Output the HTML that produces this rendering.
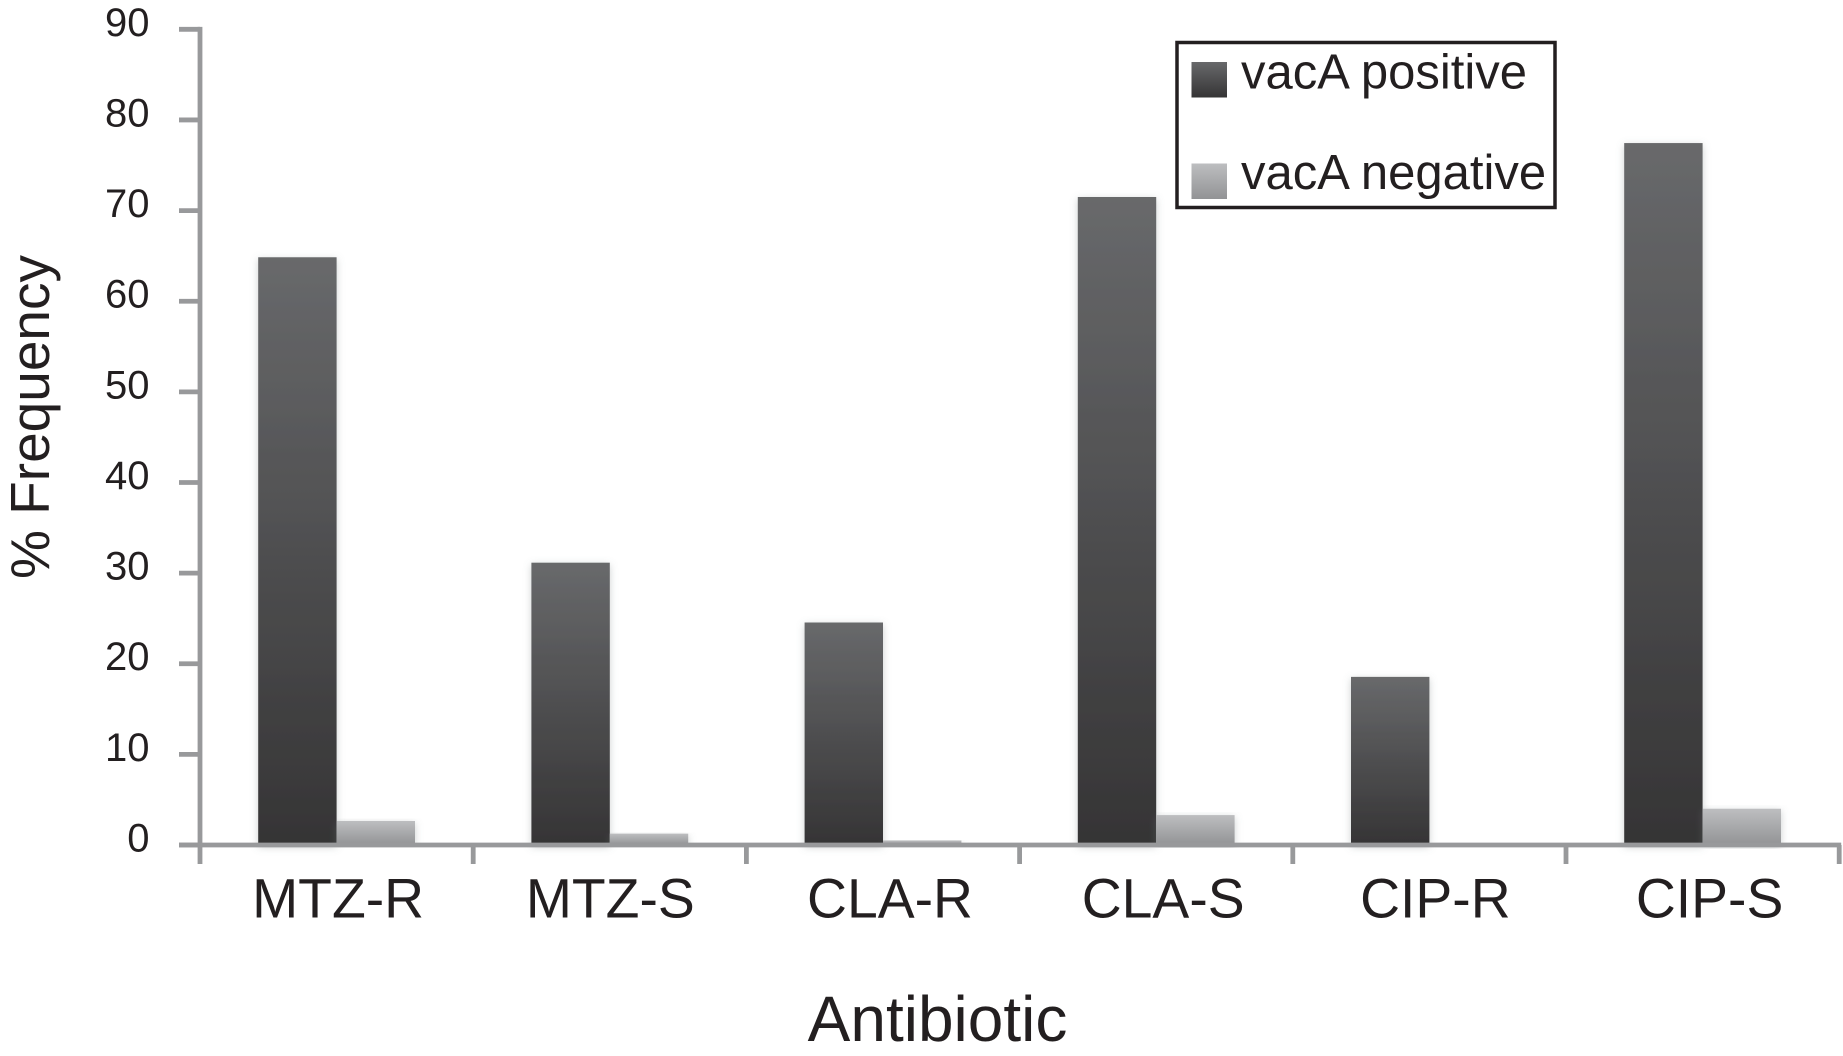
<!DOCTYPE html>
<html lang="en">
<head>
<meta charset="utf-8">
<title>vacA frequency by antibiotic</title>
<style>
html,body{margin:0;padding:0;background:#fff;width:1843px;height:1056px;overflow:hidden}
svg{display:block}
text{font-family:"Liberation Sans",sans-serif;fill:#231f20}
</style>
</head>
<body>
<svg id="chart" xmlns="http://www.w3.org/2000/svg" width="1843" height="1056" viewBox="0 0 1843 1056">
<defs>
<linearGradient id="dark-grad" x1="0" y1="0" x2="0" y2="1"><stop offset="0" stop-color="#68696b"/><stop offset="1" stop-color="#353435"/></linearGradient>
<linearGradient id="light-grad" x1="0" y1="0" x2="0" y2="1"><stop offset="0" stop-color="#bdbec0"/><stop offset="1" stop-color="#929395"/></linearGradient>
<filter id="bar-shadow" x="-30%" y="-10%" width="160%" height="120%"><feDropShadow dx="0" dy="2" stdDeviation="4" flood-color="#6f7a7a" flood-opacity="0.35"/></filter>
</defs>
<g id="bars"></g>
<g id="axes"></g>
<text transform="translate(49,417) rotate(-90)" text-anchor="middle" font-size="55">% Frequency</text>
<text x="937.5" y="1041" text-anchor="middle" font-size="64">Antibiotic</text>
<g>
<rect x="1177" y="42.5" width="378" height="165" fill="#fff" stroke="#231f20" stroke-width="3.5"/>
<rect x="1191.5" y="62" width="35.5" height="35.5" fill="url(#dark-grad)"/>
<text x="1241" y="88.5" font-size="49">vacA positive</text>
<rect x="1191.5" y="163.5" width="35.5" height="35.5" fill="url(#light-grad)"/>
<text x="1241" y="189" font-size="49">vacA negative</text>
</g>
</svg>
<script>
const categories = ["MTZ-R", "MTZ-S", "CLA-R", "CLA-S", "CIP-R", "CIP-S"];
const vacAPositive = [64.85, 31.15, 24.55, 71.5, 18.55, 77.45];
const vacANegative = [2.65, 1.25, 0.5, 3.3, 0, 4.0];
const yTicks = [0, 10, 20, 30, 40, 50, 60, 70, 80, 90];

const NS = "http://www.w3.org/2000/svg";
const AXIS_COLOR = "#98999b";
const X0 = 200, BAND = 273.2, BAR_W = 78.4;
const Y0 = 845, UNIT = 9.063;
const LABEL_SHIFT = [1.5, 0.5, 7, 7, 6, 7];

function yScale(v) { return Y0 - v * UNIT; }
function xBand(i) { return X0 + BAND * i; }
function xCenter(i) { return xBand(i) + BAND / 2; }

function make(tag, attrs, parent) {
  const el = document.createElementNS(NS, tag);
  for (const k in attrs) el.setAttribute(k, attrs[k]);
  parent.appendChild(el);
  return el;
}

const barsG = document.getElementById("bars");
const axesG = document.getElementById("axes");

categories.forEach(function (cat, i) {
  const c = xCenter(i);
  if (vacAPositive[i] > 0) {
    const d = make("rect", { x: c - BAR_W, y: yScale(vacAPositive[i]), width: BAR_W, height: Y0 - yScale(vacAPositive[i]), fill: "url(#dark-grad)", filter: "url(#bar-shadow)" }, barsG);
    
    
  }
  if (vacANegative[i] > 0) {
    const l = make("rect", { x: c, y: yScale(vacANegative[i]), width: BAR_W, height: Y0 - yScale(vacANegative[i]), fill: "url(#light-grad)", filter: "url(#bar-shadow)" }, barsG);
    
    
  }
  const t = make("text", { x: c + LABEL_SHIFT[i], y: 917.5, "text-anchor": "middle", "font-size": 55.3 }, axesG);
  t.textContent = cat;
  
  
});

const yAxis = make("line", { x1: X0, x2: X0, y1: yScale(90) - 2.4, y2: 864, stroke: AXIS_COLOR, "stroke-width": 4.8 }, axesG);



const xAxis = make("line", { x1: 179, x2: xBand(categories.length) + 2, y1: Y0, y2: Y0, stroke: AXIS_COLOR, "stroke-width": 4.8 }, axesG);



yTicks.forEach(function (v) {
  const y = yScale(v);
  const tick = make("line", { x1: 179, x2: X0, y1: y, y2: y, stroke: AXIS_COLOR, "stroke-width": 4.8 }, axesG);
  
  
  const lab = make("text", { x: 149.5, y: y + 6.5, "text-anchor": "end", "font-size": 40 }, axesG);
  lab.textContent = String(v);
  
  
});

for (let i = 1; i <= categories.length; i++) {
  const x = xBand(i);
  const tick = make("line", { x1: x, x2: x, y1: Y0, y2: 864, stroke: AXIS_COLOR, "stroke-width": 4.8 }, axesG);
  
  
}
</script>
</body>
</html>
